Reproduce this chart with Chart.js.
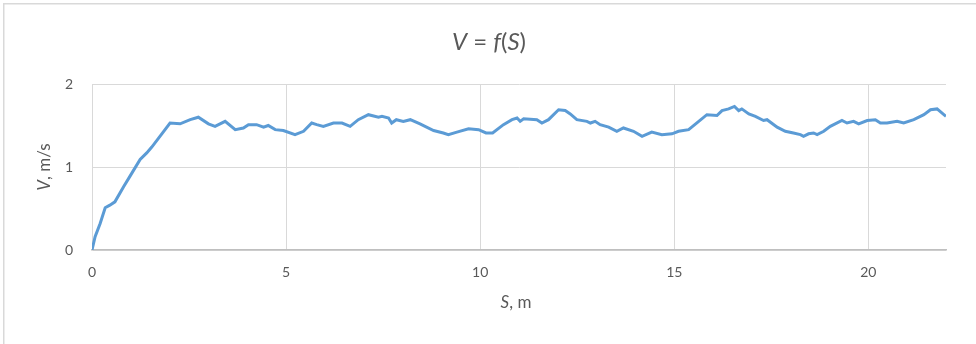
<!DOCTYPE html>
<html>
<head>
<meta charset="utf-8">
<script src="https://cdn.jsdelivr.net/npm/chart.js@4/dist/chart.umd.min.js"></script>
<style>
  html, body { margin: 0; padding: 0; background: #ffffff; }
  #wrap { position: relative; width: 976px; height: 344px; }
  canvas { display: block; }
</style>
</head>
<body>
<div id="wrap"><canvas id="c" width="976" height="344"></canvas></div>
<script>
// Distance travelled, m
const distance = [
  0, 0.08, 0.21, 0.34, 0.46, 0.59, 0.81, 0.98, 1.24, 1.41, 1.54, 1.75, 2.01, 2.27, 2.53, 2.74,
  3.0, 3.17, 3.43, 3.69, 3.90, 4.03, 4.24, 4.42, 4.54, 4.72, 4.93, 5.23, 5.45, 5.66, 5.79, 5.96,
  6.22, 6.44, 6.65, 6.86, 7.12, 7.38, 7.47, 7.64, 7.72, 7.84, 8.02, 8.20, 8.45, 8.80, 9.05, 9.18,
  9.40, 9.70, 9.96, 10.15, 10.32, 10.60, 10.82, 10.95, 11.03, 11.12, 11.46, 11.59, 11.76, 12.02,
  12.19, 12.32, 12.49, 12.75, 12.84, 12.96, 13.09, 13.31, 13.52, 13.69, 13.95, 14.17, 14.42, 14.68,
  14.94, 15.11, 15.37, 15.63, 15.84, 16.10, 16.23, 16.40, 16.55, 16.66, 16.74, 16.92, 17.09, 17.30,
  17.39, 17.65, 17.86, 18.07, 18.25, 18.33, 18.46, 18.59, 18.68, 18.85, 19.02, 19.32, 19.45, 19.62,
  19.75, 19.97, 20.18, 20.31, 20.48, 20.74, 20.91, 21.17, 21.43, 21.60, 21.77, 22.0
];
// Velocity, m/s
const velocity = [
  0, 0.16, 0.32, 0.51, 0.54, 0.58, 0.76, 0.89, 1.09, 1.17, 1.24, 1.37, 1.53, 1.52, 1.57, 1.60,
  1.52, 1.49, 1.55, 1.45, 1.47, 1.51, 1.51, 1.48, 1.50, 1.45, 1.44, 1.39, 1.43, 1.53, 1.51, 1.49,
  1.53, 1.53, 1.49, 1.57, 1.63, 1.60, 1.61, 1.59, 1.53, 1.57, 1.55, 1.57, 1.52, 1.44, 1.41, 1.39,
  1.42, 1.46, 1.45, 1.41, 1.41, 1.51, 1.57, 1.59, 1.55, 1.58, 1.57, 1.53, 1.57, 1.69,
  1.68, 1.64, 1.57, 1.55, 1.53, 1.55, 1.51, 1.48, 1.43, 1.47, 1.43, 1.37, 1.42, 1.39,
  1.40, 1.43, 1.45, 1.55, 1.63, 1.62, 1.68, 1.70, 1.73, 1.68, 1.70, 1.64, 1.61, 1.56,
  1.57, 1.48, 1.43, 1.41, 1.39, 1.37, 1.40, 1.41, 1.39, 1.43, 1.49, 1.56, 1.53, 1.55,
  1.52, 1.56, 1.57, 1.53, 1.53, 1.55, 1.53, 1.57, 1.63, 1.69, 1.70, 1.61
];
const xTicks = [0, 5, 10, 15, 20];
const yTicks = [0, 1, 2];

const textColor = '#595959';
const gridColor = '#d9d9d9';
const family = 'Lato, "Open Sans", sans-serif';

// Titles are made of upright and italic pieces
const chartTitle = [
  { t: 'V', i: true }, { t: ' = ', i: false }, { t: 'f', i: true },
  { t: '(', i: false }, { t: 'S', i: true }, { t: ')', i: false }
];
const xTitle = [{ t: 'S', i: true }, { t: ', m', i: false }];
const yTitle = [{ t: 'V', i: true }, { t: ', m/s', i: false }];

function drawPieces(ctx, pieces, cx, cy, size, weight) {
  const fontFor = p => (p.i ? 'italic ' : '') + weight + ' ' + size + 'px ' + family;
  let total = 0;
  pieces.forEach(p => { ctx.font = fontFor(p); total += ctx.measureText(p.t).width; });
  let x = cx - total / 2;
  ctx.textBaseline = 'middle';
  ctx.textAlign = 'left';
  pieces.forEach(p => {
    ctx.font = fontFor(p);
    ctx.fillText(p.t, x, cy);
    x += ctx.measureText(p.t).width;
  });
}

const decorations = {
  id: 'decorations',
  beforeDraw(chart) {
    const ctx = chart.ctx;
    ctx.save();
    ctx.fillStyle = '#ffffff';
    ctx.fillRect(0, 0, chart.width, chart.height);
    // frame of the chart box
    ctx.strokeStyle = gridColor;
    ctx.lineWidth = 1.5;
    ctx.beginPath();
    ctx.moveTo(3.75, chart.height + 5);
    ctx.lineTo(3.75, 3.75);
    ctx.lineTo(chart.width + 5, 3.75);
    ctx.stroke();
    ctx.restore();
  },
  afterDraw(chart) {
    const ctx = chart.ctx;
    const area = chart.chartArea;
    ctx.save();
    ctx.fillStyle = textColor;
    drawPieces(ctx, chartTitle, 489, 42, 24, 400);
    drawPieces(ctx, xTitle, (area.left + area.right) / 2 - 3, 303, 17, 400);
    ctx.translate(45, (area.top + area.bottom) / 2);
    ctx.rotate(-Math.PI / 2);
    drawPieces(ctx, yTitle, 0, 0, 17, 400);
    ctx.restore();
  }
};

const points = distance.map((s, k) => ({ x: s, y: velocity[k] }));

new Chart(document.getElementById('c'), {
  type: 'scatter',
  data: {
    datasets: [{
      data: points,
      showLine: true,
      borderColor: '#5b9bd5',
      borderWidth: 3,
      pointRadius: 0,
      tension: 0,
      fill: false
    }]
  },
  options: {
    responsive: false,
    animation: false,
    devicePixelRatio: 1,
    layout: { padding: { top: 84, right: 30, left: 0, bottom: 0 } },
    plugins: { legend: { display: false }, title: { display: false }, tooltip: { enabled: false } },
    scales: {
      x: {
        type: 'linear',
        min: 0,
        max: 22,
        afterFit(scale) { scale.height = 94; },
        afterBuildTicks(scale) { scale.ticks = xTicks.map(v => ({ value: v })); },
        ticks: { color: textColor, font: { family, size: 14 }, padding: 14, includeBounds: false },
        grid: { color: gridColor, lineWidth: 1, drawTicks: false },
        border: { color: '#bfbfbf', width: 1.5 }
      },
      y: {
        type: 'linear',
        min: 0,
        max: 2,
        afterFit(scale) { scale.width = 92; },
        afterBuildTicks(scale) { scale.ticks = yTicks.map(v => ({ value: v })); },
        ticks: { color: textColor, font: { family, size: 14 }, padding: 19 },
        grid: { color: gridColor, lineWidth: 1, drawTicks: false },
        border: { color: gridColor, width: 1 }
      }
    }
  },
  plugins: [decorations]
});
</script>
</body>
</html>
